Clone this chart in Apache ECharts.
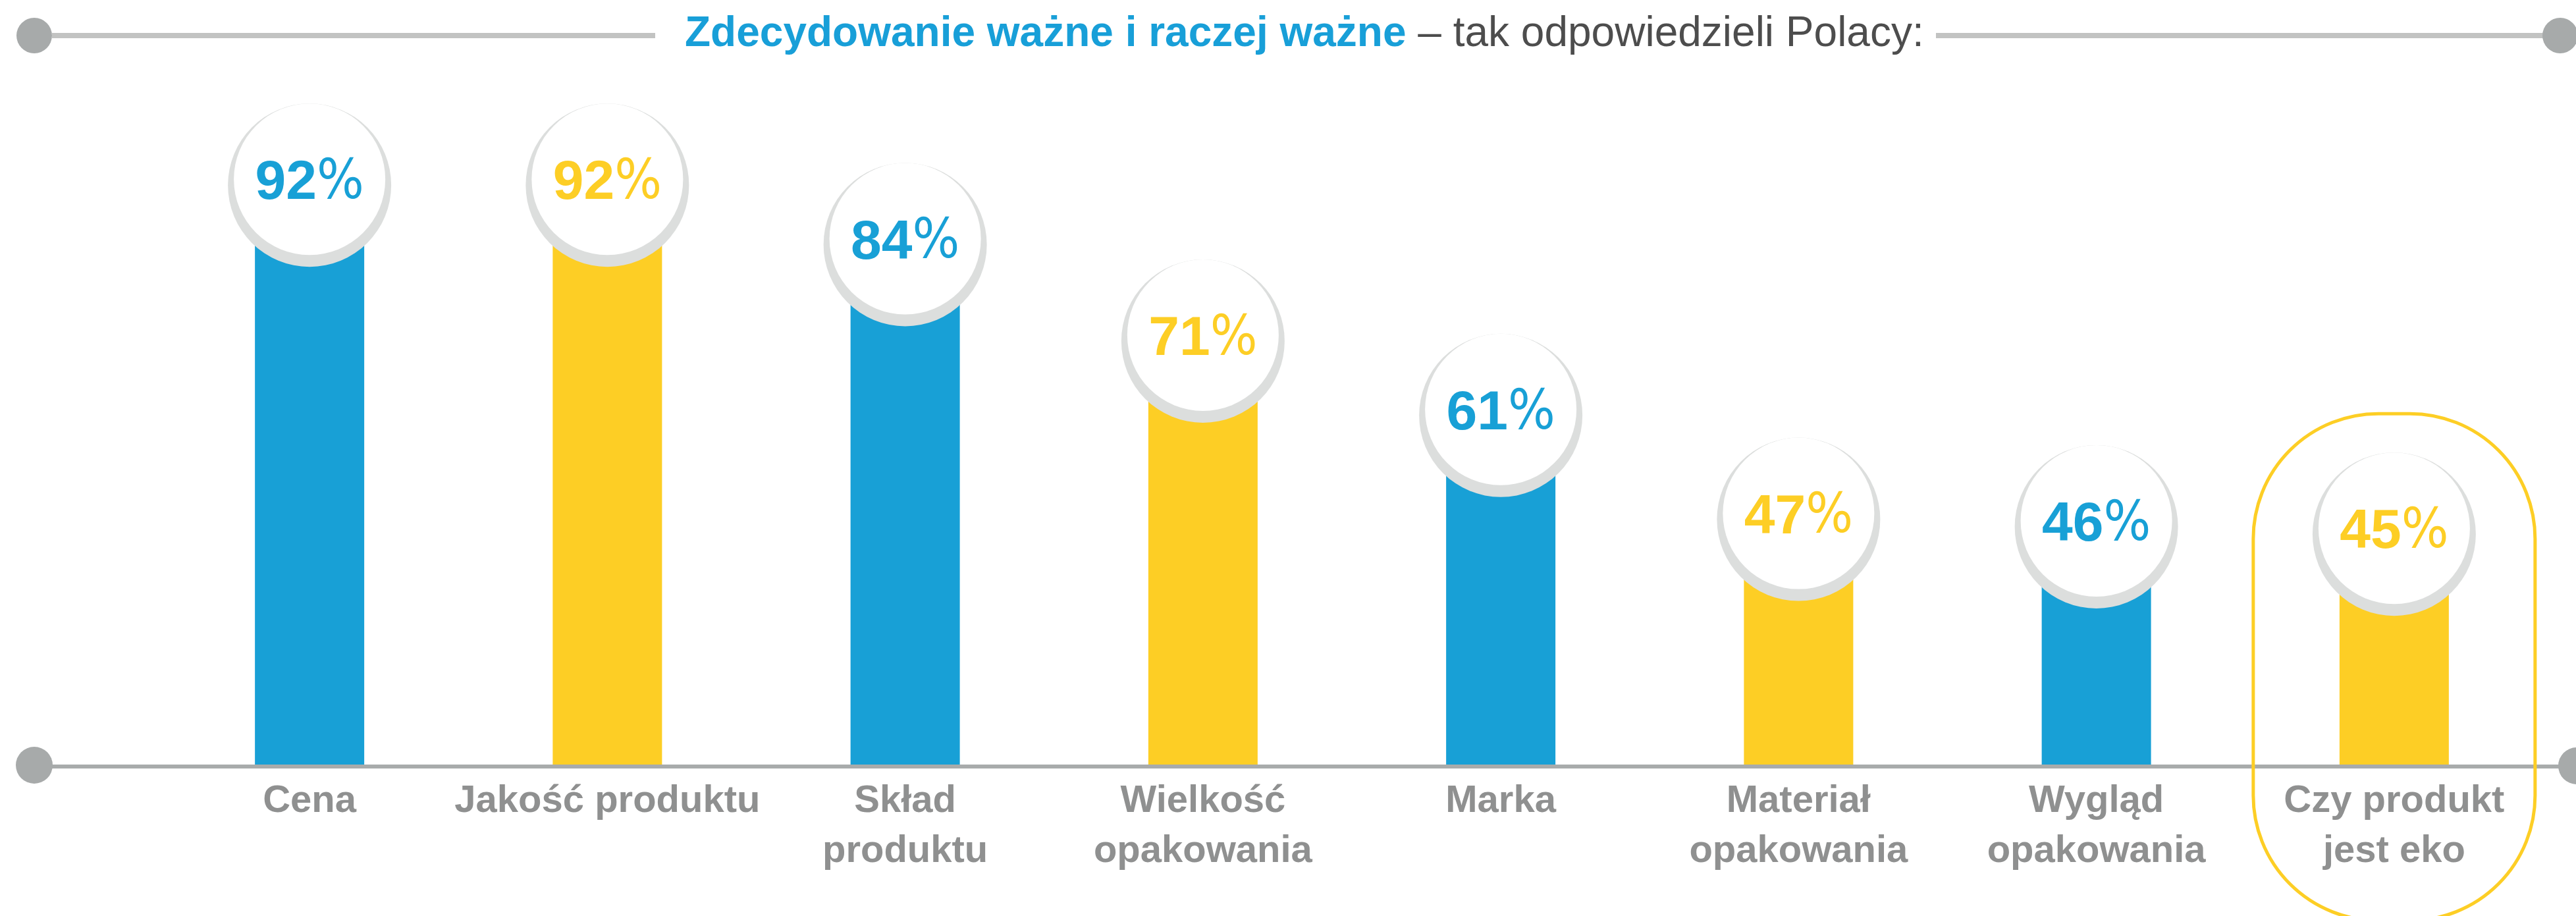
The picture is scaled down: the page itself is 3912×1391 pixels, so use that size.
<!DOCTYPE html>
<html>
<head>
<meta charset="utf-8">
<script src="https://cdn.jsdelivr.net/npm/echarts@6/dist/echarts.min.js"></script>
<style>
html,body{margin:0;padding:0;background:#fff;}
#chart{width:3912px;height:1391px;}
</style>
</head>
<body>
<div id="chart"></div>
<script>
const categories = ['Cena', 'Jakość produktu', 'Skład\nproduktu', 'Wielkość\nopakowania', 'Marka', 'Materiał\nopakowania', 'Wygląd\nopakowania', 'Czy produkt\njest eko'];
const values = [92, 92, 84, 71, 61, 47, 46, 45];
const titleBold = 'Zdecydowanie ważne i raczej ważne';
const titleRest = ' – tak odpowiedzieli Polacy:';
const highlightIndex = 7;

const BLUE = '#18a0d6';
const YELLOW = '#fdce25';
const colorFor = i => (i % 2 === 0 ? BLUE : YELLOW);
const FONT = '"Liberation Sans", Arial, sans-serif';
const NARROW = '"Liberation Sans Narrow", "DejaVu Sans Condensed", "Liberation Sans", sans-serif';

const chart = echarts.init(document.getElementById('chart'), null, {renderer: 'canvas'});

const baseGraphic = [
  {id: 'tl', type: 'line', shape: {x1: 79, y1: 54, x2: 995, y2: 54}, style: {stroke: '#c2c3c2', lineWidth: 8}},
  {id: 'tr', type: 'line', shape: {x1: 2940, y1: 54, x2: 3870, y2: 54}, style: {stroke: '#c2c3c2', lineWidth: 8}},
  {id: 'tdl', type: 'circle', shape: {cx: 52, cy: 54, r: 27}, style: {fill: '#a7aaaa'}},
  {id: 'tdr', type: 'circle', shape: {cx: 3888, cy: 54, r: 27}, style: {fill: '#a7aaaa'}},
  {id: 'bl', type: 'line', shape: {x1: 60, y1: 1164, x2: 3900, y2: 1164}, style: {stroke: '#a8abab', lineWidth: 6}, z: 5},
  {id: 'bdl', type: 'circle', shape: {cx: 52, cy: 1162, r: 28}, style: {fill: '#a7aaaa'}, z: 5},
  {id: 'bdr', type: 'circle', shape: {cx: 3913, cy: 1163, r: 28}, style: {fill: '#a7aaaa'}, z: 5}
];

const option = {
  backgroundColor: '#ffffff',
  animation: false,
  title: {
    text: '{b|' + titleBold + '}{r|' + titleRest + '}',
    left: 1035,
    top: 13,
    textStyle: {
      rich: {
        b: {fontFamily: FONT, fontSize: 64, fontWeight: 'bold', color: '#189fd8', lineHeight: 68},
        r: {fontFamily: FONT, fontSize: 64, fontWeight: 'normal', color: '#4d4d4d', lineHeight: 68}
      }
    }
  },
  grid: {left: 244, right: 50, top: 182, bottom: 228, containLabel: false},
  xAxis: {
    type: 'category',
    data: categories,
    axisLine: {show: false},
    axisTick: {show: false},
    axisLabel: {
      interval: 0,
      margin: 16,
      fontFamily: FONT,
      fontSize: 58,
      fontWeight: 'bold',
      color: '#8f9090',
      lineHeight: 76
    }
  },
  yAxis: {
    type: 'value',
    min: 13,
    max: 100,
    show: false,
    splitLine: {show: false}
  },
  series: [
    {
      type: 'bar',
      barWidth: 166,
      data: values.map((v, i) => ({value: v, itemStyle: {color: colorFor(i)}})),
      z: 2
    },
    {
      type: 'scatter',
      symbol: 'circle',
      symbolSize: 248,
      symbolOffset: [0, 9],
      itemStyle: {color: '#dcdedd', opacity: 1},
      data: values,
      z: 3,
      silent: true
    },
    {
      type: 'scatter',
      symbol: 'circle',
      symbolSize: 230,
      itemStyle: {color: '#ffffff', opacity: 1},
      data: values.map((v, i) => ({
        value: v,
        label: {
          show: true,
          position: 'inside',
          offset: [0, 7],
          formatter: '{n|' + v + '}{p|%}',
          rich: {
            n: {fontFamily: FONT, fontSize: 84, fontWeight: 'bold', color: colorFor(i)},
            p: {fontFamily: NARROW, fontSize: 84, fontWeight: 'normal', color: colorFor(i)}
          }
        }
      })),
      z: 4,
      silent: true
    }
  ],
  graphic: baseGraphic
};

chart.setOption(option);

const p = chart.convertToPixel({seriesIndex: 0}, [highlightIndex, values[highlightIndex]]);
const rectTop = p[1] - 174;
chart.setOption({
  graphic: baseGraphic.concat([{
    id: 'hl',
    type: 'rect',
    shape: {x: p[0] - 214, y: rectTop, width: 428, height: 1398 - rectTop, r: 190},
    style: {fill: 'none', stroke: YELLOW, lineWidth: 5},
    z: 6
  }])
});
</script>
</body>
</html>
